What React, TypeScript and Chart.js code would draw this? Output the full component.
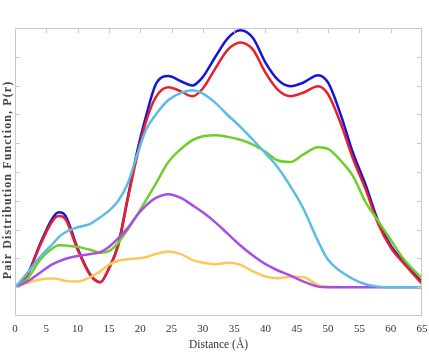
import React, { useEffect, useRef } from "react";
import { Chart, registerables } from "chart.js";

Chart.register(...registerables);

const distances = [0, 2, 4, 6, 7, 8, 10, 12, 13.6, 15, 16.5, 18, 19.5, 21, 22.5, 24.5, 26.5, 28.3, 30, 32, 34, 36, 38, 40, 42, 44, 46, 48.4, 50, 52, 54, 56, 58, 60, 62, 65];

const blueVals = [0, 0.45, 1.5, 2.4, 2.6, 2.5, 1.35, 0.45, 0.17, 0.65, 1.5, 3.1, 4.7, 6.0, 7.05, 7.33, 7.15, 7.0, 7.3, 8.0, 8.65, 8.92, 8.65, 7.8, 7.2, 6.98, 7.1, 7.36, 7.1, 6.0, 4.65, 3.55, 2.3, 1.45, 0.9, 0.17];
const redVals = [0, 0.43, 1.45, 2.3, 2.47, 2.38, 1.3, 0.42, 0.17, 0.65, 1.45, 3.05, 4.55, 5.8, 6.6, 6.94, 6.8, 6.63, 6.9, 7.6, 8.25, 8.5, 8.25, 7.45, 6.85, 6.63, 6.75, 6.98, 6.7, 5.7, 4.45, 3.4, 2.2, 1.38, 0.85, 0.12];
const cyanVals = [0, 0.5, 1.05, 1.5, 1.74, 1.9, 2.08, 2.2, 2.43, 2.65, 3.0, 3.6, 4.6, 5.5, 6.0, 6.5, 6.75, 6.84, 6.72, 6.4, 5.97, 5.57, 5.12, 4.65, 4.15, 3.5, 2.75, 1.6, 0.95, 0.55, 0.28, 0.1, 0.02, 0, 0, 0];
const greenVals = [0, 0.3, 0.95, 1.35, 1.46, 1.45, 1.4, 1.3, 1.2, 1.25, 1.55, 2.0, 2.5, 3.05, 3.6, 4.35, 4.8, 5.1, 5.24, 5.28, 5.22, 5.12, 4.95, 4.7, 4.4, 4.35, 4.6, 4.86, 4.8, 4.4, 3.85, 2.95, 2.3, 1.65, 1.0, 0.3];
const purpleVals = [0, 0.2, 0.5, 0.8, 0.9, 0.98, 1.08, 1.15, 1.22, 1.4, 1.7, 2.05, 2.5, 2.85, 3.1, 3.23, 3.1, 2.85, 2.6, 2.25, 1.85, 1.45, 1.1, 0.8, 0.58, 0.4, 0.2, 0.02, 0, 0, 0, 0, 0, 0, 0, 0];
const yellowVals = [0, 0.15, 0.27, 0.3, 0.28, 0.22, 0.2, 0.35, 0.55, 0.78, 0.92, 0.97, 1.0, 1.05, 1.15, 1.24, 1.15, 0.95, 0.85, 0.8, 0.85, 0.78, 0.55, 0.37, 0.31, 0.36, 0.35, 0.07, 0.02, 0, null, null, null, null, null, null];

const xTicks = [0, 5, 10, 15, 20, 25, 30, 35, 40, 45, 50, 55, 60, 65];
const yTitle = "Pair Distribution Function, P(r)";
const xTitle = "Distance (Å)";

const series = [
  { name: "cyan", color: "#5bbde6", values: cyanVals },
  { name: "purple", color: "#a64ee6", values: purpleVals },
  { name: "yellow", color: "#fdc85a", values: yellowVals },
  { name: "green", color: "#6ecf2a", values: greenVals },
  { name: "red", color: "#e8202a", values: redVals },
  { name: "blue", color: "#1515d8", values: blueVals },
];

const framePlugin = {
  id: "framePlugin",
  afterDatasetsDraw(chart: any) {
    const { ctx, chartArea } = chart;
    const { left, right, top, bottom } = chartArea;
    const xs = chart.scales.x;
    const ys = chart.scales.y;
    ctx.save();
    ctx.strokeStyle = "#c8c8c8";
    ctx.lineWidth = 1;
    ctx.beginPath();
    ctx.rect(left + 0.5, top + 0.5, right - left - 1, bottom - top - 1);
    ctx.stroke();
    ctx.beginPath();
    const tl = 5;
    xs.ticks.forEach((t: any) => {
      const px = Math.round(xs.getPixelForValue(t.value)) + 0.5;
      if (px <= left + 1 || px >= right - 1) return;
      ctx.moveTo(px, top);
      ctx.lineTo(px, top + tl);
    });
    ys.ticks.forEach((t: any) => {
      const py = Math.round(ys.getPixelForValue(t.value)) + 0.5;
      if (py <= top + 1 || py >= bottom - 1) return;
      ctx.moveTo(left, py);
      ctx.lineTo(left + tl, py);
      ctx.moveTo(right, py);
      ctx.lineTo(right - tl, py);
    });
    ctx.stroke();
    ctx.translate(7.5, 180);
    ctx.rotate(-Math.PI / 2);
    ctx.fillStyle = "#444";
    ctx.font = "bold 12px 'Liberation Serif', serif";
    (ctx as any).letterSpacing = "1.1px";
    ctx.textAlign = "center";
    ctx.textBaseline = "middle";
    ctx.fillText(yTitle, 0, 0);
    ctx.restore();
  },
};

export default function App() {
  const ref = useRef<HTMLCanvasElement | null>(null);
  useEffect(() => {
    document.body.style.margin = "0";
    const canvas = ref.current;
    if (!canvas) return;
    const chart = new Chart(canvas, {
      type: "line",
      data: {
        datasets: series.map((s) => ({
          label: s.name,
          data: distances.map((d, i) => ({ x: d, y: s.values[i] })),
          borderColor: s.color,
          backgroundColor: s.color,
          borderWidth: 2.5,
          pointRadius: 0,
          fill: false,
          cubicInterpolationMode: "monotone" as const,
          spanGaps: false,
        })),
      },
      options: {
        animation: false,
        responsive: false,
        maintainAspectRatio: false,
        layout: { padding: { top: 28, right: 0, left: 0, bottom: 0 } },
        plugins: { legend: { display: false }, tooltip: { enabled: false } },
        scales: {
          x: {
            type: "linear",
            min: 0,
            max: 65,
            afterBuildTicks: (axis: any) => {
              axis.ticks = xTicks.map((v) => ({ value: v }));
            },
            afterFit: (axis: any) => {
              axis.height = 38;
              axis.paddingRight = 7;
              axis.paddingLeft = 3;
            },
            grid: { display: false, drawTicks: false },
            border: { display: false },
            ticks: {
              padding: 7,
              color: "#333",
              font: { family: "'Liberation Serif', serif", size: 11 },
              maxRotation: 0,
            },
            title: {
              display: true,
              text: xTitle,
              color: "#333",
              font: { family: "'Liberation Serif', serif", size: 11.5 },
              padding: { top: 2, bottom: 2 },
            },
          },
          y: {
            min: -1,
            max: 9,
            afterFit: (axis: any) => {
              axis.width = 15;
            },
            ticks: { display: false, stepSize: 1 },
            grid: { display: false, drawTicks: false },
            border: { display: false },
            title: { display: false },
          },
        },
      },
      plugins: [framePlugin],
    });
    return () => chart.destroy();
  }, []);
  return <canvas ref={ref} width={429} height={354} style={{ display: "block" }} />;
}
